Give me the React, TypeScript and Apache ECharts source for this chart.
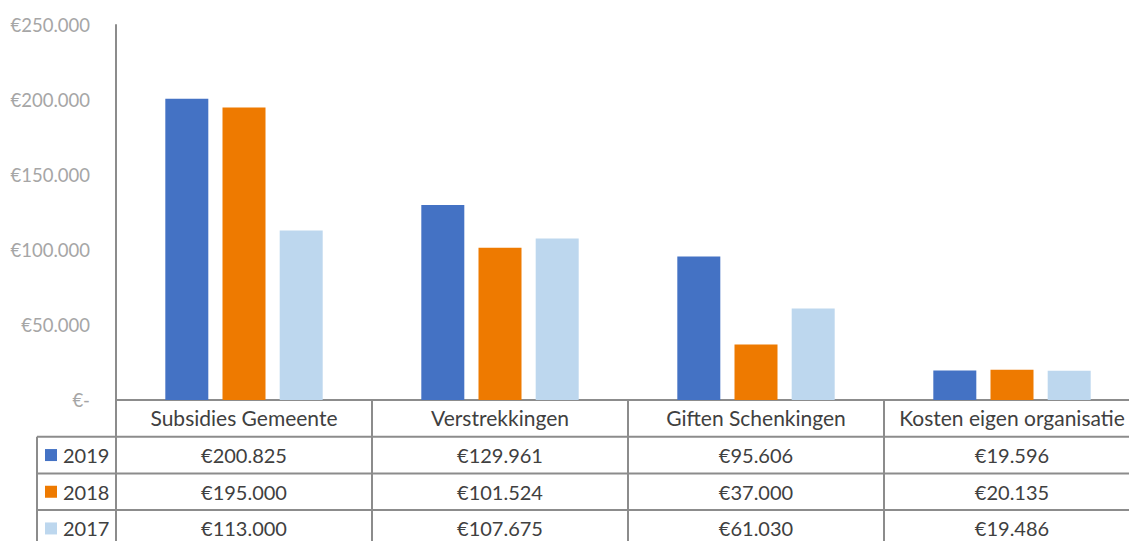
import React, { useEffect, useRef } from "react";
import * as echarts from "echarts";

const categories = ["Subsidies Gemeente", "Verstrekkingen", "Giften Schenkingen", "Kosten eigen organisatie"];
const years = ["2019", "2018", "2017"];
const values2019 = [200825, 129961, 95606, 19596];
const values2018 = [195000, 101524, 37000, 20135];
const values2017 = [113000, 107675, 61030, 19486];
const yMax = 250000;
const yInterval = 50000;

const seriesValues = [values2019, values2018, values2017];
const colors = ["#4472C4", "#EE7A00", "#BDD7EE"];

const FONT = "Lato";
const LINE = "#8c8c8c";
const TEXT = "#404040";

const fmt = (v: number) =>
  v === 0 ? "€-" : "€" + String(v).replace(/\B(?=(\d{3})+(?!\d))/g, ".");

export default function App() {
  const ref = useRef<HTMLDivElement>(null);
  useEffect(() => {
    if (!ref.current) return;
    const chart = echarts.init(ref.current, undefined, { renderer: "svg" });
    const gridLeft = 116;
    const gridTop = 25;
    const gridW = 1024;
    const gridH = 375;
    chart.setOption({
      animation: false,
      grid: { left: gridLeft, top: gridTop, width: gridW, height: gridH },
      xAxis: {
        type: "category",
        data: categories,
        axisLine: { show: true, lineStyle: { color: LINE, width: 2 } },
        axisTick: { show: false },
        axisLabel: { fontFamily: FONT, fontSize: 21, color: TEXT, margin: 7, interval: 0 },
      },
      yAxis: {
        type: "value",
        min: 0,
        max: yMax,
        interval: yInterval,
        axisLine: { show: true, lineStyle: { color: LINE, width: 2 } },
        axisTick: { show: false },
        splitLine: { show: false },
        axisLabel: { fontFamily: FONT, fontSize: 18.5, color: "#a6a6a6", margin: 26, formatter: fmt },
      },
      series: years.map((y, i) => ({
        type: "bar",
        name: y,
        data: seriesValues[i],
        barWidth: 43,
        barGap: "33%",
        itemStyle: { color: colors[i] },
      })),
    });

    const baseY = gridTop + gridH; // 400
    const rowH = 36.7;
    const tableLeft = 37;
    const right = 1140;
    const graphics: any[] = [];
    const hline = (x1: number, x2: number, y: number) =>
      graphics.push({ type: "line", shape: { x1, y1: y, x2, y2: y }, style: { stroke: LINE, lineWidth: 2 }, silent: true });
    const vline = (x: number, y1: number, y2: number) =>
      graphics.push({ type: "line", shape: { x1: x, y1, x2: x, y2 }, style: { stroke: LINE, lineWidth: 2 }, silent: true });

    const headerBottom = baseY + rowH;
    hline(tableLeft, right, headerBottom);
    hline(tableLeft, right, headerBottom + rowH);
    hline(tableLeft, right, headerBottom + 2 * rowH);
    vline(tableLeft, headerBottom, 560);
    vline(gridLeft, baseY, 560);
    const catW = gridW / categories.length;
    for (let i = 1; i <= categories.length; i++) vline(gridLeft + i * catW, baseY, 560);

    years.forEach((y, r) => {
      const cy = headerBottom + (r + 0.5) * rowH;
      graphics.push({ type: "rect", shape: { x: 45, y: cy - 6, width: 12, height: 12 }, style: { fill: colors[r] }, silent: true });
      graphics.push({
        type: "text",
        x: 63,
        y: cy,
        style: { text: y, fontFamily: FONT, fontSize: 20, fill: TEXT, verticalAlign: "middle", align: "left" },
        silent: true,
      });
      categories.forEach((c, ci) => {
        const cx = chart.convertToPixel({ xAxisIndex: 0 }, c) as number;
        graphics.push({
          type: "text",
          x: cx,
          y: cy,
          style: { text: fmt(seriesValues[r][ci]), fontFamily: FONT, fontSize: 20, fill: TEXT, verticalAlign: "middle", align: "center" },
          silent: true,
        });
      });
    });
    chart.setOption({ graphic: graphics });
    return () => chart.dispose();
  }, []);
  return (
    <div style={{ position: "fixed", left: 0, top: 0, width: 1129, height: 541, overflow: "hidden", background: "#fff" }}>
      <div ref={ref} style={{ width: 1160, height: 541 }} />
    </div>
  );
}
